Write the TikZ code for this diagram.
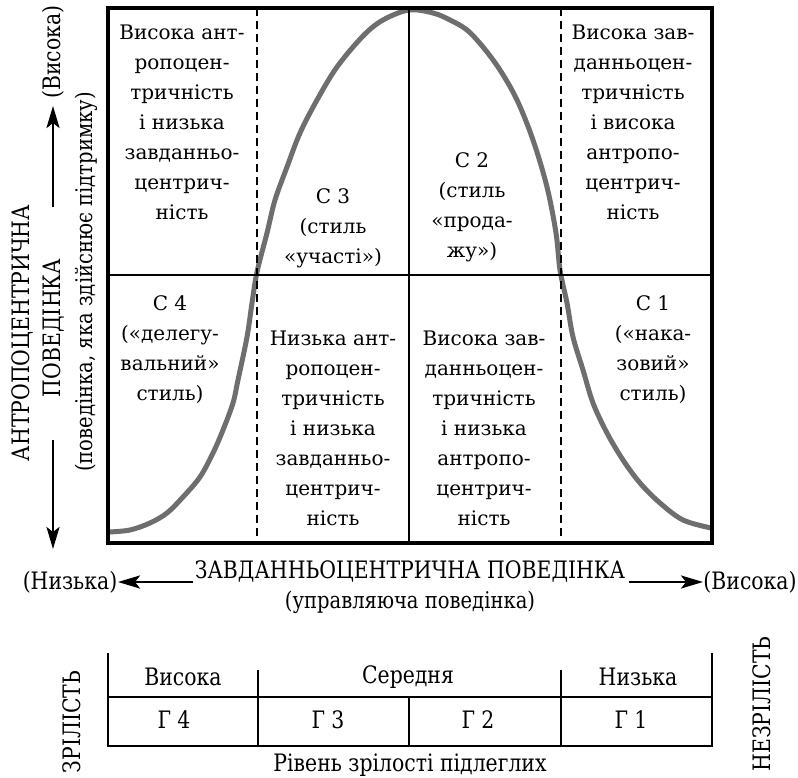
\documentclass[tikz,border=0pt]{standalone}
\usepackage{fontspec}
\setmainfont{DejaVu Serif}
\newfontfamily\cellfont{DejaVu Serif}
\newfontfamily\condfont[FakeStretch=0.85]{DejaVu Serif}
\usetikzlibrary{arrows.meta}
\definecolor{curvegray}{HTML}{6E6E6E}
\begin{document}
\begin{tikzpicture}[x=1pt,y=-1pt,
  frame/.style={line width=3.2pt, black},
  rule/.style={line width=2.8pt, black},
  dashv/.style={line width=2.6pt, black, dash pattern=on 8pt off 5pt},
  bell/.style={line width=5pt, color=curvegray, line cap=round},
  cell/.style={align=center, font=\cellfont\fontsize{20}{30}\selectfont, inner sep=0pt},
  lab/.style={font=\condfont\fontsize{24}{28}\selectfont, inner sep=0pt},
  sublab/.style={font=\condfont\fontsize{23}{26}\selectfont, inner sep=0pt},
  tab/.style={font=\condfont\fontsize{24}{28}\selectfont, inner sep=0pt},
  arr/.style={line width=2.6pt, -{Stealth[length=22pt,width=13pt,inset=5pt]}},
]
\useasboundingbox (0,0) rectangle (798,778);

% bell curve
\draw[bell] plot[smooth, tension=0.55] coordinates {
 (109,532) (130,530) (150,523) (167,513) (183,497) (200,477) (213,453) (223,430)
 (233,403) (238,380) (247,337) (252,303) (257,272) (267,233) (275,200) (287,167)
 (300,133) (317,100) (337,67) (363,36) (383,20) (409,10)
 (433,13) (450,20) (467,30) (483,47) (500,70) (517,100) (533,140) (547,187)
 (556,233) (560,270) (567,303) (573,337) (583,370) (593,403) (607,433) (623,460)
 (640,483) (660,503) (683,520) (711,528)};

% grid
\coordinate (TL) at (108,8);
\coordinate (BR) at (712,543);
\draw[dashv] (257,8) -- (257,543);
\draw[dashv] (561,8) -- (561,543);
\draw[rule] (409,8) -- (409,543);
\draw[rule] (108,275) -- (712,275);
\draw[frame] (TL) rectangle (BR);

% cell texts
\node[cell] (c11) at (182,122) {Висока ант-\\ропоцен-\\тричність\\і низька\\завданньо-\\центрич-\\ність};
\node[cell] (c12) at (333,228) {С 3\\(стиль\\«участі»)};
\node[cell] (c13) at (472,207) {С 2\\(стиль\\«прода-\\жу»)};
\node[cell] (c14) at (633,122) {Висока зав-\\данньоцен-\\тричність\\і висока\\антропо-\\центрич-\\ність};
\node[cell] (c21) at (170,350) {С 4\\(«делегу-\\вальний»\\стиль)};
\node[cell] (c22) at (333,428) {Низька ант-\\ропоцен-\\тричність\\і низька\\завданньо-\\центрич-\\ність};
\node[cell] (c23) at (484,428) {Висока зав-\\данньоцен-\\тричність\\і низька\\антропо-\\центрич-\\ність};
\node[cell] (c24) at (653,350) {С 1\\(«нака-\\зовий»\\стиль)};

% vertical axis
\node[lab, rotate=90] (yt1) at (22,333) {АНТРОПОЦЕНТРИЧНА};
\node[lab, rotate=90] (yt2) at (53,328) {ПОВЕДІНКА};
\node[sublab, rotate=90] (yt3) at (86,282) {(поведінка, яка здійснює підтримку)};
\node[lab, rotate=90] (yhi) at (53,52) {(Висока)};
\coordinate (yupS) at (53,207);
\coordinate (yupE) at (53,106);
\coordinate (ydnS) at (53,440);
\coordinate (ydnE) at (53,549);
\draw[arr] (yupS) -- (yupE);
\draw[arr] (ydnS) -- (ydnE);

% horizontal axis
\node[lab] (xlo) at (70,582) {(Низька)};
\node[lab] (xt) at (410,571) {ЗАВДАННЬОЦЕНТРИЧНА ПОВЕДІНКА};
\node[sublab] (xs) at (410,602) {(управляюча поведінка)};
\node[lab] (xhi) at (750,582) {(Висока)};
\coordinate (xlS) at (193,582);
\coordinate (xlE) at (118,582);
\coordinate (xrS) at (629,582);
\coordinate (xrE) at (703,582);
\draw[arr] (xlS) -- (xlE);
\draw[arr] (xrS) -- (xrE);

% maturity table
\draw[rule] (108,653) -- (108,746) -- (712,746) -- (712,653);
\draw[rule] (108,697) -- (712,697);
\draw[rule] (258,670) -- (258,746);
\draw[rule] (561,670) -- (561,746);
\draw[rule] (409,697) -- (409,746);
\node[tab] (m1) at (183,677) {Висока};
\node[tab] (m2) at (408,677) {Середня};
\node[tab] (m3) at (638,677) {Низька};
\node[tab] (g4) at (174,720) {Г 4};
\node[tab] (g3) at (328,720) {Г 3};
\node[tab] (g2) at (478,720) {Г 2};
\node[tab] (g1) at (631,720) {Г 1};
\node[tab] (lvl) at (410,765) {Рівень зрілості підлеглих};
\node[tab, rotate=90] (mat) at (72,722) {ЗРІЛІСТЬ};
\node[tab, rotate=90] (immat) at (762,704) {НЕЗРІЛІСТЬ};
\end{tikzpicture}
\end{document}
